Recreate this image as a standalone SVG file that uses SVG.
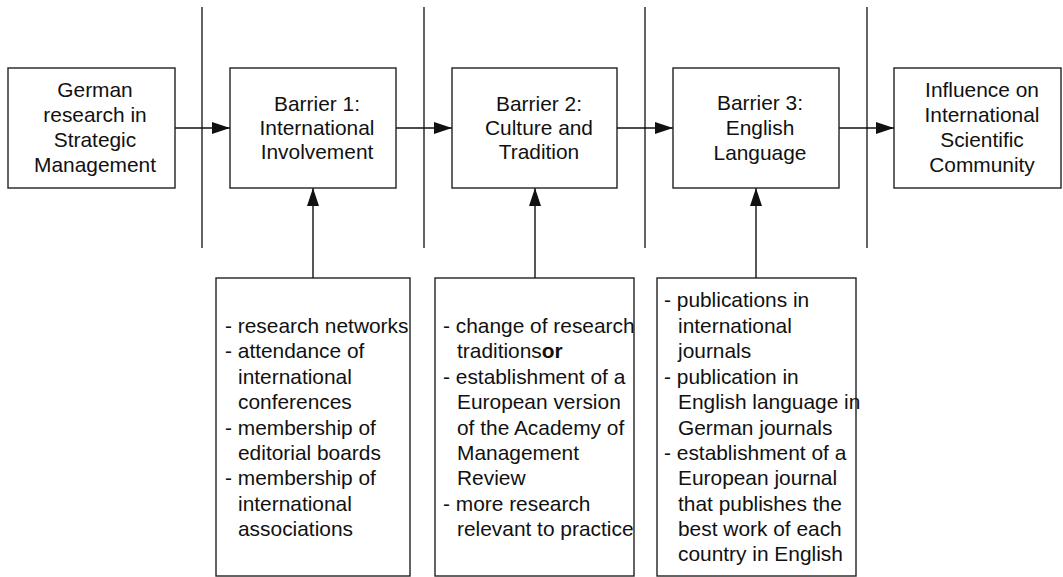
<svg xmlns="http://www.w3.org/2000/svg" width="1063" height="577" viewBox="0 0 1063 577">
  <style>
    .box { fill: #fff; stroke: #222; stroke-width: 1.4; }
    .sep { stroke: #222; stroke-width: 1.4; }
    .conn { stroke: #111; stroke-width: 1.4; fill: none; marker-end: url(#arrow); }
    .lbl { font-family: "Liberation Sans", Arial, sans-serif; font-size: 20.9px; fill: #111; }
    .ctr { text-anchor: middle; }
  </style>
  <defs>
    <marker id="arrow" viewBox="0 0 18 12" refX="18" refY="6" markerWidth="18" markerHeight="12" markerUnits="userSpaceOnUse" orient="auto">
      <path d="M0,0 L18,6 L0,12 Z" fill="#111"/>
    </marker>
  </defs>

  <!-- stage separators -->
  <g id="separators">
    <line class="sep" x1="202" y1="7" x2="202" y2="248"/>
    <line class="sep" x1="424" y1="7" x2="424" y2="248"/>
    <line class="sep" x1="645" y1="7" x2="645" y2="248"/>
    <line class="sep" x1="867" y1="7" x2="867" y2="248"/>
  </g>

  <!-- connectors -->
  <g id="connectors">
    <line class="conn" x1="175" y1="128" x2="230" y2="128"/>
    <line class="conn" x1="396" y1="128" x2="452" y2="128"/>
    <line class="conn" x1="617" y1="128" x2="673" y2="128"/>
    <line class="conn" x1="839" y1="128" x2="894" y2="128"/>
    <line class="conn" x1="313" y1="278" x2="313" y2="188"/>
    <line class="conn" x1="535" y1="278" x2="535" y2="188"/>
    <line class="conn" x1="756" y1="278" x2="756" y2="188"/>
  </g>

  <g id="german-research">
    <rect class="box" x="8" y="68" width="167" height="120"/>
    <text class="lbl ctr" x="95" y="97">German</text>
    <text class="lbl ctr" x="95" y="122">research in</text>
    <text class="lbl ctr" x="95" y="147">Strategic</text>
    <text class="lbl ctr" x="95" y="172">Management</text>
  </g>

  <g id="barrier-1">
    <rect class="box" x="230" y="68" width="166" height="120"/>
    <text class="lbl ctr" x="317" y="111">Barrier 1:</text>
    <text class="lbl ctr" x="317" y="135">International</text>
    <text class="lbl ctr" x="317" y="159">Involvement</text>
  </g>

  <g id="barrier-2">
    <rect class="box" x="452" y="68" width="165" height="120"/>
    <text class="lbl ctr" x="539" y="111">Barrier 2:</text>
    <text class="lbl ctr" x="539" y="135">Culture and</text>
    <text class="lbl ctr" x="539" y="159">Tradition</text>
  </g>

  <g id="barrier-3">
    <rect class="box" x="673" y="68" width="166" height="120"/>
    <text class="lbl ctr" x="760" y="110">Barrier 3:</text>
    <text class="lbl ctr" x="760" y="135">English</text>
    <text class="lbl ctr" x="760" y="160">Language</text>
  </g>

  <g id="influence">
    <rect class="box" x="894" y="68" width="167" height="120"/>
    <text class="lbl ctr" x="982" y="97">Influence on</text>
    <text class="lbl ctr" x="982" y="122">International</text>
    <text class="lbl ctr" x="982" y="147">Scientific</text>
    <text class="lbl ctr" x="982" y="172">Community</text>
  </g>

  <g id="measures-1">
    <rect class="box" x="216" y="278" width="194" height="298"/>
    <text class="lbl" x="225" y="333">- research networks</text>
    <text class="lbl" x="225" y="358">- attendance of</text>
    <text class="lbl" x="238" y="384">international</text>
    <text class="lbl" x="238" y="409">conferences</text>
    <text class="lbl" x="225" y="435">- membership of</text>
    <text class="lbl" x="238" y="460">editorial boards</text>
    <text class="lbl" x="225" y="485">- membership of</text>
    <text class="lbl" x="238" y="511">international</text>
    <text class="lbl" x="238" y="536">associations</text>
  </g>

  <g id="measures-2">
    <rect class="box" x="435" y="278" width="199" height="298"/>
    <text class="lbl" x="443" y="333">- change of research</text>
    <text class="lbl" x="457" y="358">traditions<tspan font-weight="bold">or</tspan></text>
    <text class="lbl" x="443" y="384">- establishment of a</text>
    <text class="lbl" x="457" y="409">European version</text>
    <text class="lbl" x="457" y="435">of the Academy of</text>
    <text class="lbl" x="457" y="460">Management</text>
    <text class="lbl" x="457" y="485">Review</text>
    <text class="lbl" x="443" y="511">- more research</text>
    <text class="lbl" x="457" y="536">relevant to practice</text>
  </g>

  <g id="measures-3">
    <rect class="box" x="657" y="278" width="199" height="298"/>
    <text class="lbl" x="664" y="307">- publications in</text>
    <text class="lbl" x="678" y="333">international</text>
    <text class="lbl" x="678" y="358">journals</text>
    <text class="lbl" x="664" y="384">- publication in</text>
    <text class="lbl" x="678" y="409">English language in</text>
    <text class="lbl" x="678" y="435">German journals</text>
    <text class="lbl" x="664" y="460">- establishment of a</text>
    <text class="lbl" x="678" y="485">European journal</text>
    <text class="lbl" x="678" y="511">that publishes the</text>
    <text class="lbl" x="678" y="536">best work of each</text>
    <text class="lbl" x="678" y="561">country in English</text>
  </g>
</svg>
